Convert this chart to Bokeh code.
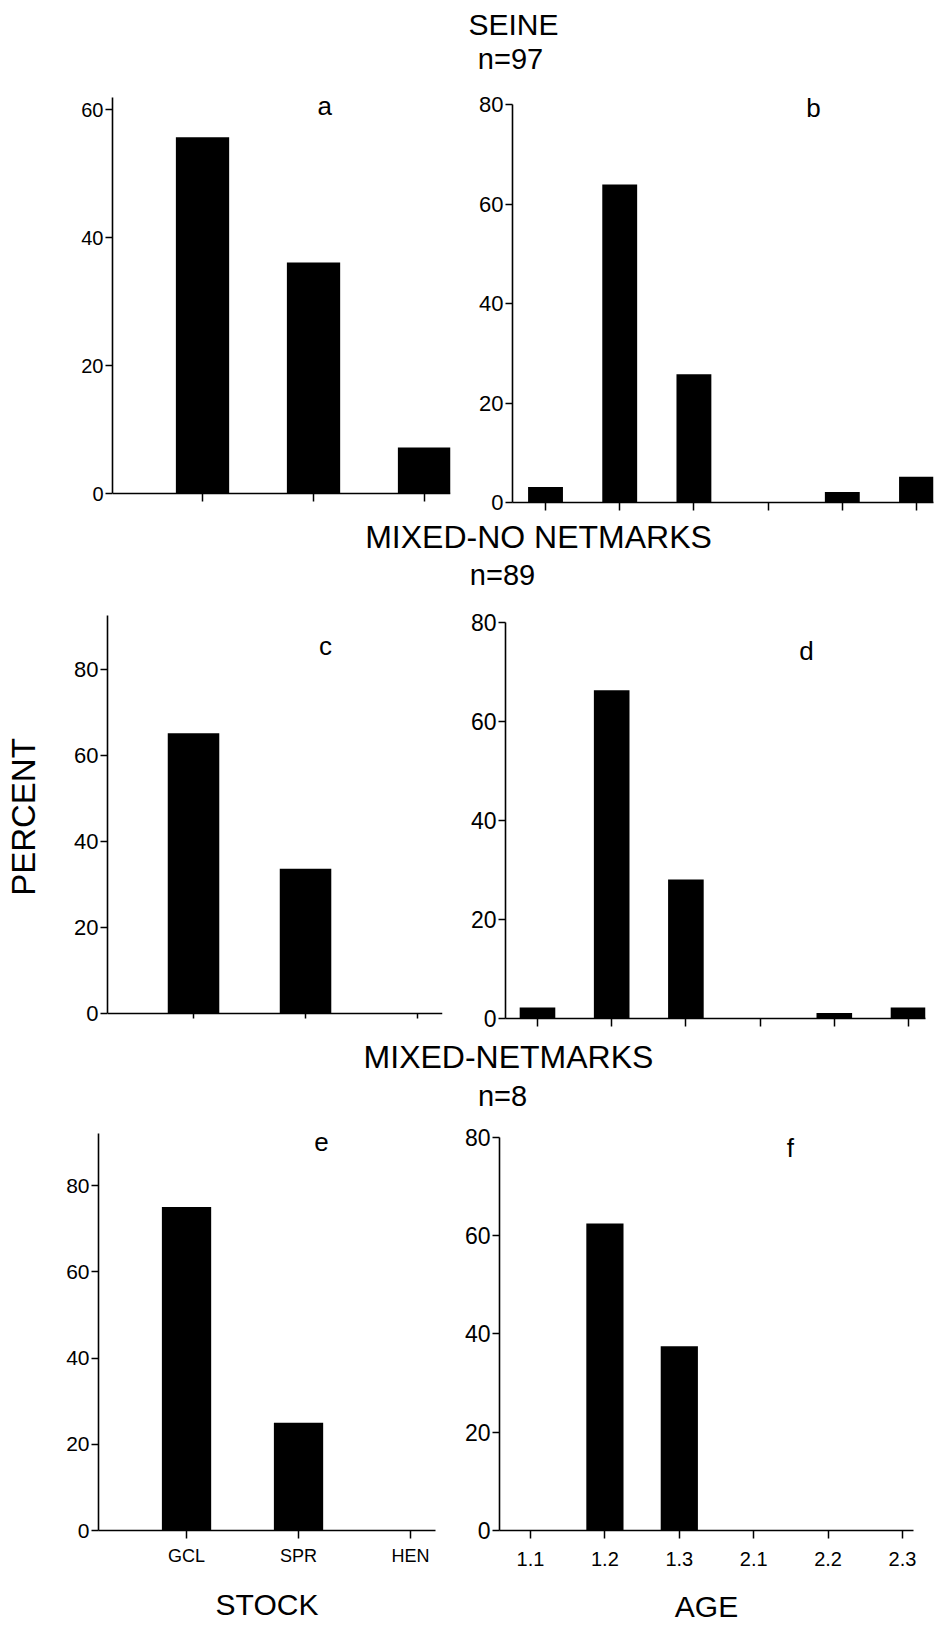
from bokeh.plotting import figure
from bokeh.layouts import column, row
from bokeh.models import Range1d, FixedTicker, Label
from bokeh.core.properties import value
from bokeh.embed import file_html
from bokeh.resources import INLINE

FONT = "Liberation Sans"

# ---------------- data ----------------
stock_cats = ["GCL", "SPR", "HEN"]
age_cats = ["1.1", "1.2", "1.3", "2.1", "2.2", "2.3"]

seine_stock = [55.7, 36.1, 7.2]
seine_age = [3.1, 63.9, 25.8, 0.0, 2.1, 5.2]
nonet_stock = [65.2, 33.7, 0.0]
nonet_age = [2.2, 66.3, 28.1, 0.0, 1.1, 2.2]
net_stock = [75.0, 25.0, 0.0]
net_age = [0.0, 62.5, 37.5, 0.0, 0.0, 0.0]

group_titles = ["SEINE", "MIXED-NO NETMARKS", "MIXED-NETMARKS"]
group_n = ["n=97", "n=89", "n=8"]
panel_letters = ["a", "b", "c", "d", "e", "f"]


def header(h, title, ttl_xy, ttl_fs, ntext, n_xy, n_fs):
    p = figure(width=935, height=h, x_range=Range1d(0, 935), y_range=Range1d(h, 0),
               toolbar_location=None, output_backend="svg", min_border=0,
               x_axis_type=None, y_axis_type=None)
    p.outline_line_color = None
    p.text(x=[ttl_xy[0]], y=[ttl_xy[1]], text=[title], text_font=value(FONT),
           text_font_size=ttl_fs, text_align="center", text_baseline="middle", text_color="black")
    p.text(x=[n_xy[0]], y=[n_xy[1]], text=[ntext], text_font=value(FONT),
           text_font_size=n_fs, text_align="center", text_baseline="middle", text_color="black")
    return p


def panel(width, height, borders, xr, yr, ybounds, yticks, cats, vals, barw, ytick_fs,
          letter, letter_xy, xaxis_at_zero=False, show_xlabels=False, xlabel_fs="18px",
          xaxis_label=None, xlabel_standoff=9, xaxis_label_standoff=18,
          yaxis_label=None, yaxis_label_standoff=29):
    l, r, t, b = borders
    p = figure(width=width, height=height, x_range=Range1d(*xr), y_range=Range1d(*yr),
               toolbar_location=None, output_backend="svg",
               min_border_left=l, min_border_right=r, min_border_top=t, min_border_bottom=b)
    p.outline_line_color = None
    p.xgrid.visible = False
    p.ygrid.visible = False
    xs = list(range(1, len(cats) + 1))
    p.vbar(x=xs, top=vals, width=barw, bottom=0, fill_color="black", line_color=None)

    # y axis
    ya = p.yaxis[0]
    ya.ticker = FixedTicker(ticks=yticks)
    ya.bounds = ybounds
    ya.minor_tick_line_color = None
    ya.major_tick_out = 7
    ya.major_tick_in = 0
    ya.major_label_standoff = 2
    ya.axis_line_width = 1.6
    ya.major_tick_line_width = 1.5
    ya.major_label_text_font = FONT
    ya.major_label_text_font_size = ytick_fs
    ya.major_label_text_color = "black"
    if yaxis_label:
        ya.axis_label = yaxis_label
        ya.axis_label_text_font = FONT
        ya.axis_label_text_font_size = "33px"
        ya.axis_label_text_font_style = "normal"
        ya.axis_label_standoff = yaxis_label_standoff
        ya.axis_label_text_color = "black"

    # x axis
    xa = p.xaxis[0]
    if xaxis_at_zero:
        xa.fixed_location = 0
    xa.ticker = FixedTicker(ticks=xs)
    xa.minor_tick_line_color = None
    xa.major_tick_out = 8
    xa.major_tick_in = 0
    xa.axis_line_width = 1.6
    xa.major_tick_line_width = 1.5
    if show_xlabels:
        xa.major_label_overrides = {x: c for x, c in zip(xs, cats)}
        xa.major_label_text_font = FONT
        xa.major_label_text_font_size = xlabel_fs
        xa.major_label_standoff = xlabel_standoff
        xa.major_label_text_color = "black"
    else:
        xa.major_label_overrides = {x: "" for x in xs}
        xa.major_label_text_font_size = "1px"
        xa.major_label_standoff = 0
    if xaxis_label:
        xa.axis_label = xaxis_label
        xa.axis_label_text_font = FONT
        xa.axis_label_text_font_size = "30px"
        xa.axis_label_text_font_style = "normal"
        xa.axis_label_standoff = xaxis_label_standoff
        xa.axis_label_text_color = "black"

    p.add_layout(Label(x=letter_xy[0], y=letter_xy[1], text=letter, text_font=FONT,
                       text_font_size="26px", text_align="center", text_baseline="middle",
                       text_color="black"))
    return p


# ---- row 1 (SEINE) : frame y 97..502
h1 = header(88, group_titles[0], (513, 24), "30px", group_n[0], (510, 58), "29px")
pa = panel(460, 427, (112, 10, 9, 13), (0.189, 3.234), (-1.406, 61.9), (0, 61.9),
           [0, 20, 40, 60], stock_cats, seine_stock, 0.48, "20px",
           panel_letters[0], (2.10, 60.5), xaxis_at_zero=True)
pb = panel(475, 427, (52, 2, 9, 13), (0.555, 6.229), (0, 81.41), (0, 80),
           [0, 20, 40, 60, 80], age_cats, seine_age, 0.47, "22px",
           panel_letters[1], (4.61, 79.2))

# ---- row 2 (MIXED-NO NETMARKS) : frame y 615..1018
h2 = header(85, group_titles[1], (538, 21), "32px", group_n[1], (502, 59), "29px")
pc = panel(460, 440, (107, 18, 15, 22), (0.232, 3.223), (-1.163, 92.6), (0, 92.6),
           [0, 20, 40, 60, 80], stock_cats, nonet_stock, 0.46, "22px",
           panel_letters[2], (2.178, 85.6), xaxis_at_zero=True, yaxis_label="PERCENT")
pd = panel(475, 440, (45, 10, 15, 22), (0.569, 6.229), (0, 81.41), (0, 80),
           [0, 20, 40, 60, 80], age_cats, nonet_age, 0.48, "23px",
           panel_letters[3], (4.625, 74.3))

# ---- row 3 (MIXED-NETMARKS) : frame y 1133..1530
h3 = header(75, group_titles[2], (508, 16), "32px", group_n[2], (502, 55), "29px")
pe = panel(460, 512, (98, 25, 18, 97), (0.214, 3.223), (0, 92.06), (0, 92.06),
           [0, 20, 40, 60, 80], stock_cats, net_stock, 0.44, "21px",
           panel_letters[4], (2.205, 90.0), show_xlabels=True, xlabel_fs="18px",
           xaxis_label="STOCK", xlabel_standoff=7, xaxis_label_standoff=19)
pf = panel(475, 512, (39, 22, 18, 97), (0.583, 6.148), (0, 80.81), (0, 80),
           [0, 20, 40, 60, 80], age_cats, net_age, 0.5, "23px",
           panel_letters[5], (4.494, 77.8), show_xlabels=True, xlabel_fs="20px",
           xaxis_label="AGE", xlabel_standoff=13, xaxis_label_standoff=21)

layout = column(h1, row(pa, pb), h2, row(pc, pd), h3, row(pe, pf))

open("out.html", "w").write(file_html(layout, INLINE))
